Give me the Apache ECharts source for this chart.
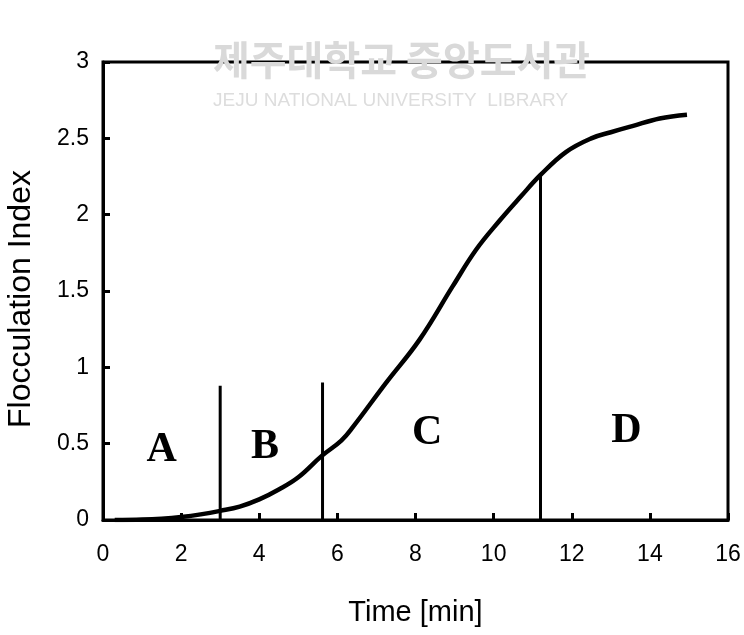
<!DOCTYPE html>
<html><head><meta charset="utf-8">
<script src="https://cdn.jsdelivr.net/npm/echarts@6/dist/echarts.min.js"></script>
<style>html,body{margin:0;padding:0;background:#fff}#c{width:744px;height:635px}</style>
</head><body><div id="c"></div>
<script>
const timeMin = [0.3, 1, 1.5, 2, 2.5, 3, 3.5, 4, 4.5, 5, 5.6, 6.1, 6.4, 7.25, 8.1, 8.95, 9.55, 10.15, 10.7, 11.2, 11.85, 12.5, 13.0, 13.55, 14.25, 14.95];
const flocIndex = [0, 0.003, 0.009, 0.02, 0.037, 0.06, 0.088, 0.135, 0.2, 0.28, 0.42, 0.52, 0.61, 0.9, 1.18, 1.53, 1.77, 1.96, 2.12, 2.26, 2.41, 2.5, 2.54, 2.58, 2.63, 2.655];
const dividerX = [3.0, 5.62, 11.2];
const dividerTop = [0.88, 0.9, 2.26];
const regionNames = ['A', 'B', 'C', 'D'];
const regionX = [1.5, 4.15, 8.3, 13.4];
const regionY = [0.46, 0.48, 0.57, 0.58];

const chart = echarts.init(document.getElementById('c'), null, {renderer: 'canvas'});
const series = [{
  type: 'line', data: timeMin.map((t, i) => [t, flocIndex[i]]), smooth: 0.4, showSymbol: false,
  lineStyle: {color: '#000', width: 4.5}, z: 5
}];
dividerX.forEach((x, i) => series.push({
  type: 'line', data: [[x, 0], [x, dividerTop[i]]], showSymbol: false,
  lineStyle: {color: '#000', width: 3}, z: 4
}));
series.push({
  type: 'scatter', data: regionNames.map((n, i) => [regionX[i], regionY[i], n]), symbolSize: 1,
  itemStyle: {color: 'rgba(0,0,0,0)'},
  label: {show: true, position: 'inside', formatter: p => p.data[2], color: '#000', opacity: 1,
    textBorderWidth: 0, fontFamily: 'Liberation Serif', fontWeight: 'bold', fontSize: 42}
});
chart.setOption({
  animation: false,
  graphic: [
    {type: 'text', left: 213, top: 40, style: {text: '제주대학교 중앙도서관', fill: '#d9d9d9', font: 'bold 40px "Noto Sans CJK KR"'}},
    {type: 'text', left: 213, top: 91, style: {text: 'JEJU NATIONAL UNIVERSITY  LIBRARY', fill: '#dddddd', font: '19px "Liberation Sans"'}}
  ],
  grid: {left: 103, right: 16, top: 62, bottom: 115, outerBoundsMode: 'none', containLabel: false,
    show: true, borderColor: '#000', borderWidth: 3, backgroundColor: 'transparent'},
  xAxis: {type: 'value', min: 0, max: 16, interval: 2,
    name: 'Time [min]', nameLocation: 'middle', nameGap: 78,
    nameTextStyle: {fontFamily: 'Liberation Sans', fontSize: 29, color: '#000'},
    axisLine: {lineStyle: {color: '#000', width: 3}},
    axisTick: {inside: true, length: 7, lineStyle: {color: '#000', width: 3}},
    axisLabel: {margin: 23, fontFamily: 'Liberation Sans', fontSize: 23, color: '#000'},
    splitLine: {show: false}},
  yAxis: {type: 'value', min: 0, max: 3, interval: 0.5,
    name: 'Flocculation Index', nameLocation: 'middle', nameGap: 66,
    nameTextStyle: {fontFamily: 'Liberation Sans', fontSize: 32, color: '#000', padding: [0, 16, 0, 0]},
    axisLine: {lineStyle: {color: '#000', width: 3}},
    axisTick: {inside: true, length: 7, lineStyle: {color: '#000', width: 3}},
    axisLabel: {margin: 14, fontFamily: 'Liberation Sans', fontSize: 23, color: '#000',
      formatter: v => String(v)},
    splitLine: {show: false}},
  series
});
</script></body></html>
